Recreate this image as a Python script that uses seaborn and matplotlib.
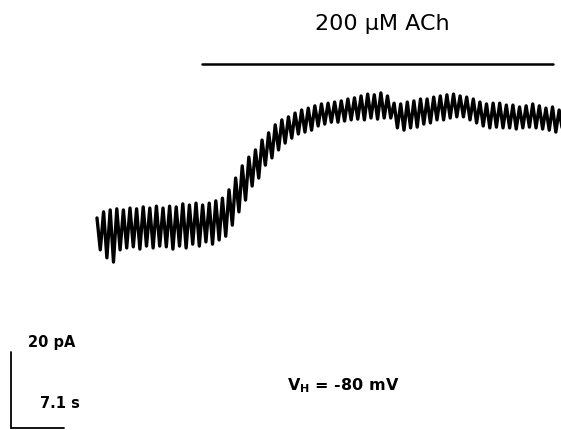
import numpy as np
import pandas as pd
import matplotlib
matplotlib.use("Agg")
import matplotlib.pyplot as plt
import seaborn as sns

# ---- data (current in pA relative to holding baseline, time in s) ----
upper_pA = [3.7, 5.3, 5.8, 6.1, 5.8, 6.3, 6.1, 6.6, 6.3, 6.8,
            6.3, 6.8, 6.6, 7.4, 7.1, 7.6, 7.1, 7.6, 8.2, 8.9,
            11.1, 14.2, 17.4, 19.7, 21.6, 24.2, 26.1, 28.2, 29.5, 30.3,
            31.3, 32.1, 32.6, 33.2, 33.7, 33.9, 34.2, 34.5, 35.0, 35.3,
            35.8, 36.3, 36.1, 36.6, 35.8, 33.9, 33.7, 34.2, 34.5, 35.0,
            35.0, 35.5, 35.8, 36.1, 36.3, 35.8, 35.5, 35.0, 34.2, 33.7,
            33.9, 33.9, 33.4, 33.4, 32.9, 33.2, 33.7, 33.2, 32.6, 32.9,
            32.1]
lower_pA = [-4.7, -6.8, -7.9, -4.7, -4.2, -3.9, -4.5, -3.7, -4.2, -3.7,
            -3.9, -4.5, -3.7, -4.2, -3.2, -3.7, -2.6, -3.2, -2.1, -1.1,
            1.8, 5.3, 8.4, 12.1, 14.2, 17.6, 19.5, 21.6, 23.4, 24.7,
            25.8, 26.3, 26.8, 27.9, 28.4, 28.9, 28.9, 29.2, 29.5, 29.7,
            29.5, 30.0, 29.7, 30.0, 30.0, 27.4, 26.8, 27.4, 27.6, 28.4,
            28.7, 29.5, 29.5, 30.0, 30.3, 30.3, 29.5, 28.7, 27.9, 27.4,
            27.6, 27.4, 27.4, 27.1, 27.4, 27.6, 27.4, 27.1, 26.8, 26.3,
            26.8]
cycle_period_s = 0.885
ach_on_s, ach_off_s = 14.1, 61.1
ach_label = "200 μM ACh"
scale_current_pA = 20
scale_time_s = 7.1
scale_current_label = "20 pA"
scale_time_label = "7.1 s"
holding_label = r"V$_\mathregular{H}$ = -80 mV"

# ---- build trace ----
n = len(upper_pA)
t_up = np.arange(n) * cycle_period_s
t_lo = t_up + cycle_period_s / 2
t = np.empty(2 * n)
I = np.empty(2 * n)
t[0::2], t[1::2] = t_up, t_lo
I[0::2], I[1::2] = upper_pA, lower_pA
df = pd.DataFrame({"time": t, "current": I})

sns.set_theme(style="white")
plt.rcParams["text.color"] = "black"
fig = plt.figure(figsize=(5.61, 4.30), dpi=100)
ax = fig.add_axes([0, 0, 1, 1])

sns.lineplot(data=df, x="time", y="current", sort=False, estimator=None,
             color="black", lw=2.4, ax=ax)

# axes range (data units)
ax.set_xlim(-13.0, 62.2)
ax.set_ylim(-52.1, 61.05)
ax.axis("off")

# ACh application bar
ax.plot([ach_on_s, ach_off_s], [44.2, 44.2], color="black", lw=1.8)
ax.text(38.3, 54.7, ach_label, ha="center", va="center", fontsize=16,
        family="DejaVu Sans", color="black")

# scale bars
x0, y0 = -11.53, -51.6
ax.plot([x0, x0, x0 + scale_time_s], [y0 + scale_current_pA, y0, y0],
        color="black", lw=1.3, solid_joinstyle="miter")
ax.text(-9.2, -29.2, scale_current_label, ha="left", va="center",
        fontsize=10.5, fontweight="bold", family="DejaVu Sans Condensed",
        color="black")
ax.text(-7.6, -45.2, scale_time_label, ha="left", va="center",
        fontsize=10.5, fontweight="bold", family="DejaVu Sans Condensed",
        color="black")
ax.text(33.0, -40.5, holding_label, ha="center", va="center",
        fontsize=11.5, fontweight="bold", family="DejaVu Sans Condensed",
        color="black")

fig.savefig("out.png", dpi=100, facecolor="white")
